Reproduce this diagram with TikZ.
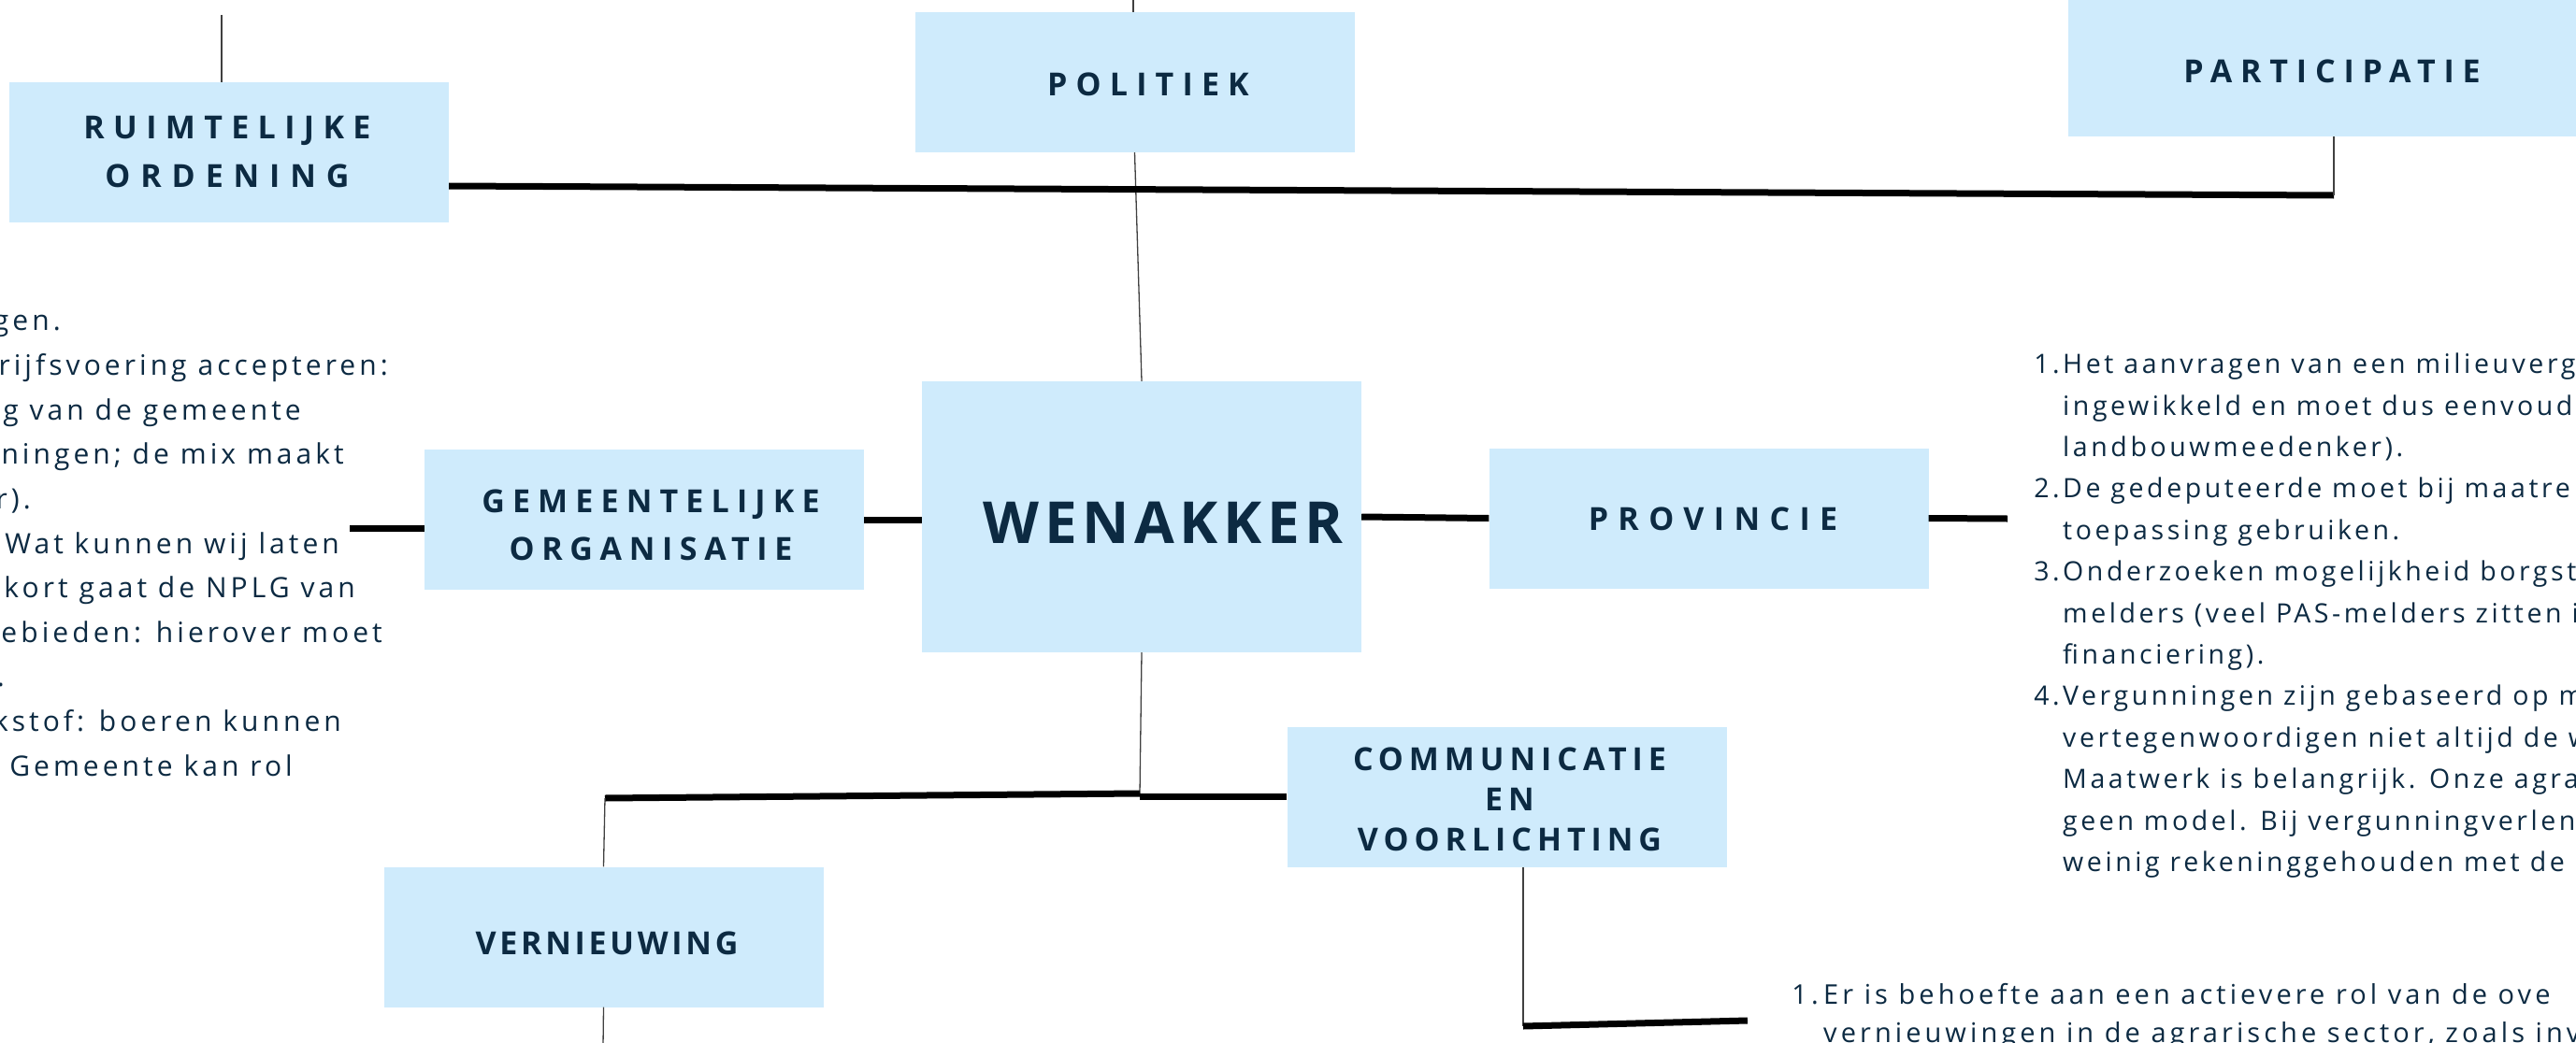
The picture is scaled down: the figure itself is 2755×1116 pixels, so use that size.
\documentclass[tikz,border=0pt]{standalone}
\usepackage{fontspec}
\setmainfont{Open Sans}
\newfontfamily\bodyfont{Open Sans}
\newfontfamily\labelfont{Open Sans}
\newfontfamily\titlefont[LetterSpace=9]{Open Sans}
\newcommand\lblfont[2]{\labelfont\bfseries\fontsize{34}{#2}\selectfont\addfontfeature{LetterSpace=#1}}
\newcommand\txtfont[2]{\bodyfont\fontsize{#1}{34}\selectfont\addfontfeature{LetterSpace=#2}}
\definecolor{boxblue}{RGB}{207,235,252}
\definecolor{navy}{RGB}{12,42,66}
\begin{document}
\begin{tikzpicture}[x=1pt,y=-1pt,
  box/.style={fill=boxblue,draw=none,inner sep=0pt,minimum width=470pt,minimum height=150pt},
  lbl/.style={text=navy,align=center,inner sep=0pt},
  thinline/.style={draw=black!75,line width=1.3pt},
  thickline/.style={draw=black,line width=7pt},
  rtxt/.style={text=navy,inner sep=0pt,anchor=mid west,font={\txtfont{28.5}{12.5}}},
  rnum/.style={text=navy,inner sep=0pt,anchor=mid east,font={\txtfont{28.5}{12.5}}},
  ltxt/.style={text=navy,inner sep=0pt,anchor=mid east,font={\txtfont{30}{13.5}}},
  btxt/.style={text=navy,inner sep=0pt,anchor=mid west,font={\txtfont{29}{14}}},
  bnum/.style={text=navy,inner sep=0pt,anchor=mid east,font={\txtfont{29}{14}}}
]
\useasboundingbox (0,0) rectangle (2755,1116);
\clip (0,0) rectangle (2755,1116);

% boxes
\node[box] (ruim) at (245,163) {};
\node[box] (pol) at (1213.5,88) {};
\node[box,minimum width=568pt] (part) at (2496,71) {};
\node[box,minimum height=290pt] (wen) at (1221,553) {};
\node[box] (gem) at (689,556) {};
\node[box] (prov) at (1827.5,554.5) {};
\node[box] (comm) at (1611.5,852.5) {};
\node[box] (vern) at (645.5,1002.5) {};

% labels
\node[lbl,font={\lblfont{27.5}{52}}] (ruimT) at (243,163) {RUIMTELIJKE\\\addfontfeature{LetterSpace=32}ORDENING};
\node[lbl,font={\lblfont{27}{52}}] (polT) at (1228,90) {POLITIEK};
\node[lbl,font={\lblfont{26}{52}}] (partT) at (2494,76) {PARTICIPATIE};
\node[lbl,font={\lblfont{24}{51}}] (gemT) at (696,561.5) {GEMEENTELIJKE\\\addfontfeature{LetterSpace=22.5}ORGANISATIE};
\node[lbl,font={\lblfont{30.5}{52}}] (provT) at (1832,555) {PROVINCIE};
\node[lbl,font={\lblfont{17.5}{43}}] (commT) at (1614.5,855.7) {COMMUNICATIE\\EN\\VOORLICHTING};
\node[lbl,font={\lblfont{11}{52}}] (vernT) at (649,1009.5) {VERNIEUWING};
\node[text=navy,inner sep=0pt,font=\titlefont\bfseries\fontsize{62}{66}\selectfont] (wenT) at (1244,559) {WENAKKER};

% coordinates
\coordinate (ruimTop) at (237,16);
\coordinate (polTop) at (1212,-2);
\coordinate (partJ) at (2496,209);
\coordinate (gemL) at (374,565);
\coordinate (provR) at (2147,555);
\coordinate (j1) at (1219,849);
\coordinate (j2) at (647,854);
\coordinate (vernB) at (645,1120);
\coordinate (commJ) at (1629,1098);
\coordinate (commR) at (1869,1092);

% connectors
\draw[thinline] (ruimTop) -- (ruim.north -| ruimTop);
\draw[thinline] (pol.north -| polTop) -- (polTop);
\draw[thinline] (pol.south) -- (wen.north);
\draw[thickline] ([yshift=-36pt]ruim.east) -- (partJ);
\draw[thinline] (partJ) -- (part.south -| partJ);
\draw[thickline] (gemL) -- (gemL -| gem.west);
\draw[thickline] (gem.east) -- (gem.east -| wen.west);
\draw[thickline] (wen.east) -- (prov.west);
\draw[thickline] (prov.east) -- (provR);
\draw[thinline] (wen.south) -- (j1);
\draw[thickline] (j2) -- (j1);
\draw[thickline] (comm.west -| j1) -- (comm.west);
\draw[thinline] (j2) -- (vern.north);
\draw[thinline] (vern.south) -- (vernB);
\draw[thinline] ([xshift=17.5pt]comm.south) -- (commJ);
\draw[thickline] (commJ) -- (commR);

% left text block (cut off at the left edge)
\node[ltxt] (l1) at (65,351) {gen.};
\node[ltxt] (l2) at (415,399) {drijfsvoering accepteren:};
\node[ltxt] (l3) at (322,447) {g van de gemeente};
\node[ltxt] (l4) at (368,494) {ningen; de mix maakt};
\node[ltxt] (l5) at (33,542) {r).};
\node[ltxt] (l6) at (363,590) {Wat kunnen wij laten};
\node[ltxt] (l7) at (380,637) {kort gaat de NPLG van};
\node[ltxt] (l8) at (409,685) {gebieden: hierover moet};
\node[ltxt] (l9) at (5,732) {.};
\node[ltxt] (l10) at (365,780) {kstof: boeren kunnen};
\node[ltxt] (l11) at (313,828) {Gemeente kan rol};

% right text block (cut off at the right edge)
\node[rnum] (n1) at (2203,397) {1.};
\node[rtxt] (r1) at (2206,397) {Het aanvragen van een milieuverg};
\node[rtxt] (r2) at (2206,441.4) {ingewikkeld en moet dus eenvoud};
\node[rtxt] (r3) at (2206,485.8) {landbouwmeedenker).};
\node[rnum] (n2) at (2203,530.2) {2.};
\node[rtxt] (r4) at (2206,530.2) {De gedeputeerde moet bij maatre};
\node[rtxt] (r5) at (2206,574.6) {toepassing gebruiken.};
\node[rnum] (n3) at (2203,619) {3.};
\node[rtxt] (r6) at (2206,619) {Onderzoeken mogelijkheid borgste};
\node[rtxt] (r7) at (2206,663.4) {melders (veel PAS-melders zitten i};
\node[rtxt] (r8) at (2206,707.8) {financiering).};
\node[rnum] (n4) at (2203,752.2) {4.};
\node[rtxt] (r9) at (2206,752.2) {Vergunningen zijn gebaseerd op m};
\node[rtxt] (r10) at (2206,796.6) {vertegenwoordigen niet altijd de w};
\node[rtxt] (r11) at (2206,841) {Maatwerk is belangrijk. Onze agra};
\node[rtxt] (r12) at (2206,885.4) {geen model. Bij vergunningverlenin};
\node[rtxt] (r13) at (2206,929.8) {weinig rekeninggehouden met de r};

% bottom text block
\node[bnum] (b0) at (1945,1072) {1.};
\node[btxt] (b1) at (1950,1072) {Er is behoefte aan een actievere rol van de ove};
\node[btxt] (b2) at (1950,1113) {vernieuwingen in de agrarische sector, zoals inve};
\end{tikzpicture}
\end{document}
